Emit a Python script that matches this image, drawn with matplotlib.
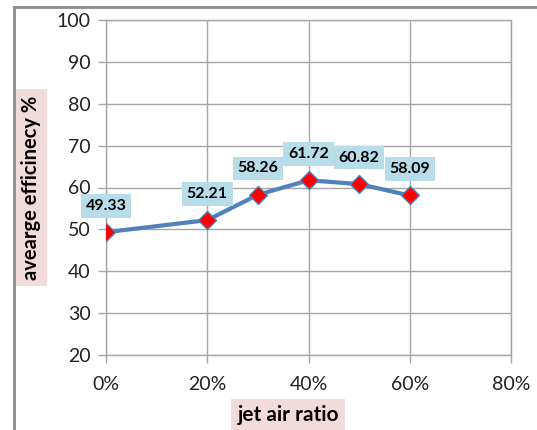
import matplotlib.pyplot as plt
from matplotlib.lines import Line2D
from matplotlib.ticker import FuncFormatter

# jet air ratio vs. average efficiency
jet_air_ratio = [0.0, 0.2, 0.3, 0.4, 0.5, 0.6]
avg_efficiency = [49.33, 52.21, 58.26, 61.72, 60.82, 58.09]
x_ticks = [0.0, 0.2, 0.4, 0.6, 0.8]
y_ticks = [20, 30, 40, 50, 60, 70, 80, 90, 100]

plt.rcParams['font.family'] = ['Lato', 'DejaVu Sans']

fig = plt.figure(figsize=(5.37, 4.30), dpi=100)
ax = fig.add_axes([106 / 537, 1 - 355 / 430, 405 / 537, 335 / 430])

grid_col = '#a6a6a6'
ax.set_xlim(0, 0.8)
ax.set_ylim(20, 100)
ax.set_xticks(x_ticks)
ax.set_yticks(y_ticks)
ax.xaxis.set_major_formatter(FuncFormatter(lambda v, p: f'{v * 100:.0f}%'))
ax.grid(True, color=grid_col, linewidth=1)
ax.set_axisbelow(True)
for s in ax.spines.values():
    s.set_color(grid_col)
    s.set_linewidth(1)
ax.tick_params(axis='both', colors=grid_col, length=6, width=1,
               labelcolor='#222222', labelsize=14)
ax.tick_params(axis='x', pad=9)
ax.tick_params(axis='y', pad=5)

ax.plot(jet_air_ratio, avg_efficiency, color='#4f81bd', linewidth=3,
        marker='D', markersize=9.5, markerfacecolor='red',
        markeredgecolor='#4f81bd', markeredgewidth=1, zorder=3)

for x, y in zip(jet_air_ratio, avg_efficiency):
    ax.annotate(f'{y:.2f}', (x, y), xytext=(0, 19), textcoords='offset points',
                ha='center', va='center', fontsize=11.5, fontweight='bold',
                bbox=dict(boxstyle='square,pad=0.3', fc='#b7dee8', ec='none'))

ax.set_xlabel('jet air ratio', fontsize=15, fontweight='bold',
              bbox=dict(boxstyle='square,pad=0.3', fc='#f2dcdb', ec='none'))
ax.xaxis.set_label_coords(0.45, -0.15)
ax.set_ylabel('avearge efficinecy %', fontsize=14.5, fontweight='bold',
              bbox=dict(boxstyle='square,pad=0.3', fc='#f2dcdb', ec='none'))
ax.yaxis.set_label_coords(-0.16, 0.5)

# outer chart border (left and top edges visible)
fig.add_artist(Line2D([14 / 537, 14 / 537], [0, 1 - 7 / 430],
                      transform=fig.transFigure, color='#8c8c8c', linewidth=2))
fig.add_artist(Line2D([14 / 537, 1], [1 - 7 / 430, 1 - 7 / 430],
                      transform=fig.transFigure, color='#8c8c8c', linewidth=2))

fig.savefig('out.png', dpi=100)
